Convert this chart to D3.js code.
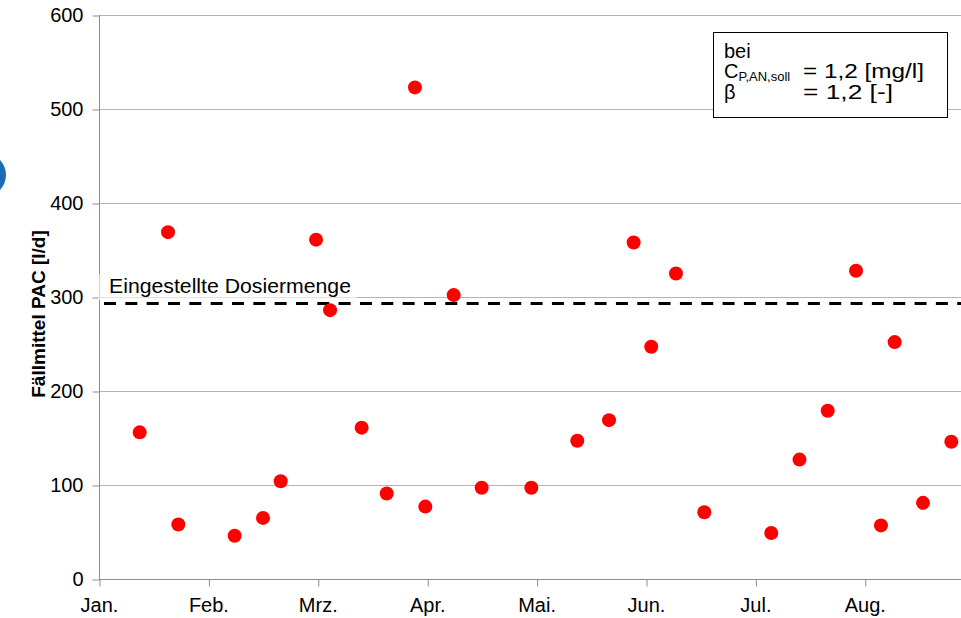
<!DOCTYPE html>
<html>
<head>
<meta charset="utf-8">
<script src="https://cdn.jsdelivr.net/npm/d3@7"></script>
<style>
  html, body { margin: 0; padding: 0; background: #fff; }
  svg { display: block; font-family: "Liberation Sans", Arial, sans-serif; }
</style>
</head>
<body>
<svg id="chart" width="961" height="618"></svg>
<script>
// Monatsbeschriftung der x-Achse (gleichabständige Monate)
const monate = ["Jan.", "Feb.", "Mrz.", "Apr.", "Mai.", "Jun.", "Jul.", "Aug."];

// Messzeitpunkte als Monatsposition (0 = Anfang Januar)
const monatPos = [0.372, 0.631, 0.725, 1.240, 1.499, 1.661, 1.984, 2.112, 2.401, 2.630,
                  2.888, 2.983, 3.242, 3.498, 3.952, 4.372, 4.662, 4.887, 5.048, 5.274,
                  5.533, 6.145, 6.403, 6.661, 6.920, 7.148, 7.273, 7.532, 7.791];

// Berechnete Fällmittelmenge PAC [l/d]
const pacMenge = [156, 369, 58, 46, 65, 104, 361, 286, 161, 91,
                  523, 77, 302, 97, 97, 147, 169, 358, 247, 325,
                  71, 49, 127, 179, 328, 57, 252, 81, 146];

// Eingestellte Dosiermenge [l/d]
const dosiermenge = 293;

// y-Achsenteilung
const yTicks = [0, 100, 200, 300, 400, 500, 600];

const svg = d3.select("#chart");
const W = 961;
const plotLeft = 99, plotTop = 15, plotBottom = 579;
const monatBreite = 109.4;
const FONT = "Liberation Sans, Arial, sans-serif";

const x = d3.scaleLinear().domain([0, 8]).range([plotLeft, plotLeft + 8 * monatBreite]);
const y = d3.scaleLinear().domain([0, 600]).range([plotBottom, plotTop]);

// angeschnittener Kreis am linken Rand
svg.append("circle")
  .attr("cx", -15.5).attr("cy", 175).attr("r", 21.5)
  .attr("fill", "#1b6db3");

// Gitterlinien
svg.append("g")
  .selectAll("line")
  .data(yTicks.filter(d => d > 0))
  .join("line")
  .attr("x1", plotLeft).attr("x2", W)
  .attr("y1", d => y(d) + 0.5).attr("y2", d => y(d) + 0.5)
  .attr("stroke", "#b4b4b4").attr("stroke-width", 1);

// y-Achse
const yAxis = svg.append("g")
  .attr("transform", `translate(${plotLeft + 0.5},0)`)
  .call(d3.axisLeft(y).tickValues(yTicks).tickSize(7).tickPadding(9).tickFormat(d3.format("d")));
yAxis.select(".domain").attr("stroke", "#8c8c8c").attr("d", `M0,${plotTop}V${plotBottom + 0.5}`);
yAxis.selectAll(".tick line").attr("stroke", "#8c8c8c").attr("transform", "translate(0,0.5)");
yAxis.selectAll(".tick text")
  .attr("font-size", 20).attr("fill", "#000").attr("font-family", FONT);

// x-Achse
const xAxis = svg.append("g")
  .attr("transform", `translate(0,${plotBottom + 0.5})`)
  .call(d3.axisBottom(x).tickValues(d3.range(monate.length)).tickSize(7).tickPadding(11)
    .tickFormat(i => monate[i]));
xAxis.select(".domain").attr("stroke", "#8c8c8c").attr("d", `M${plotLeft},0H${W}`);
xAxis.selectAll(".tick line").attr("stroke", "#8c8c8c").attr("transform", "translate(0.5,0)");
xAxis.selectAll(".tick text")
  .attr("font-size", 20).attr("fill", "#000").attr("font-family", FONT);

// Eingestellte Dosiermenge als gestrichelte Linie
svg.append("line")
  .attr("x1", plotLeft + 5).attr("x2", W)
  .attr("y1", y(dosiermenge)).attr("y2", y(dosiermenge))
  .attr("stroke", "#000").attr("stroke-width", 3)
  .attr("stroke-dasharray", "12,9.33");

// Beschriftung mit halbtransparentem Hintergrund
svg.append("rect")
  .attr("x", plotLeft - 1).attr("y", 274)
  .attr("width", 259).attr("height", 26)
  .attr("fill", "#fff").attr("fill-opacity", 0.6);
svg.append("text")
  .attr("x", 109).attr("y", 293)
  .attr("font-size", 20).attr("fill", "#000")
  .attr("textLength", 242).attr("lengthAdjust", "spacingAndGlyphs")
  .text("Eingestellte Dosiermenge");

// Messpunkte
svg.append("g")
  .selectAll("circle")
  .data(pacMenge)
  .join("circle")
  .attr("cx", (d, i) => x(monatPos[i]))
  .attr("cy", d => y(d))
  .attr("r", 7)
  .attr("fill", "#ff0000");

// y-Achsentitel
svg.append("text")
  .attr("transform", `translate(45,314) rotate(-90)`)
  .attr("text-anchor", "middle")
  .attr("font-size", 19).attr("font-weight", "bold").attr("fill", "#000")
  .text("Fällmittel PAC [l/d]");

// Infobox
const box = svg.append("g");
box.append("rect")
  .attr("x", 713.5).attr("y", 32.5).attr("width", 234).attr("height", 85)
  .attr("fill", "#fff").attr("stroke", "#000").attr("stroke-width", 1);
box.append("text").attr("x", 724).attr("y", 57.5).attr("font-size", 20).text("bei");
const c = box.append("text").attr("x", 724).attr("y", 78).attr("font-size", 20);
c.append("tspan").text("C");
c.append("tspan").attr("dy", 3).attr("font-size", 13).text("P,AN,soll");
box.append("text").attr("x", 803).attr("y", 78).attr("font-size", 20)
  .attr("textLength", 121).attr("lengthAdjust", "spacingAndGlyphs").text("= 1,2 [mg/l]");
box.append("text").attr("x", 724).attr("y", 99).attr("font-size", 20).text("β");
box.append("text").attr("x", 803).attr("y", 99).attr("font-size", 20)
  .attr("textLength", 90).attr("lengthAdjust", "spacingAndGlyphs").text("= 1,2 [-]");
</script>
</body>
</html>
